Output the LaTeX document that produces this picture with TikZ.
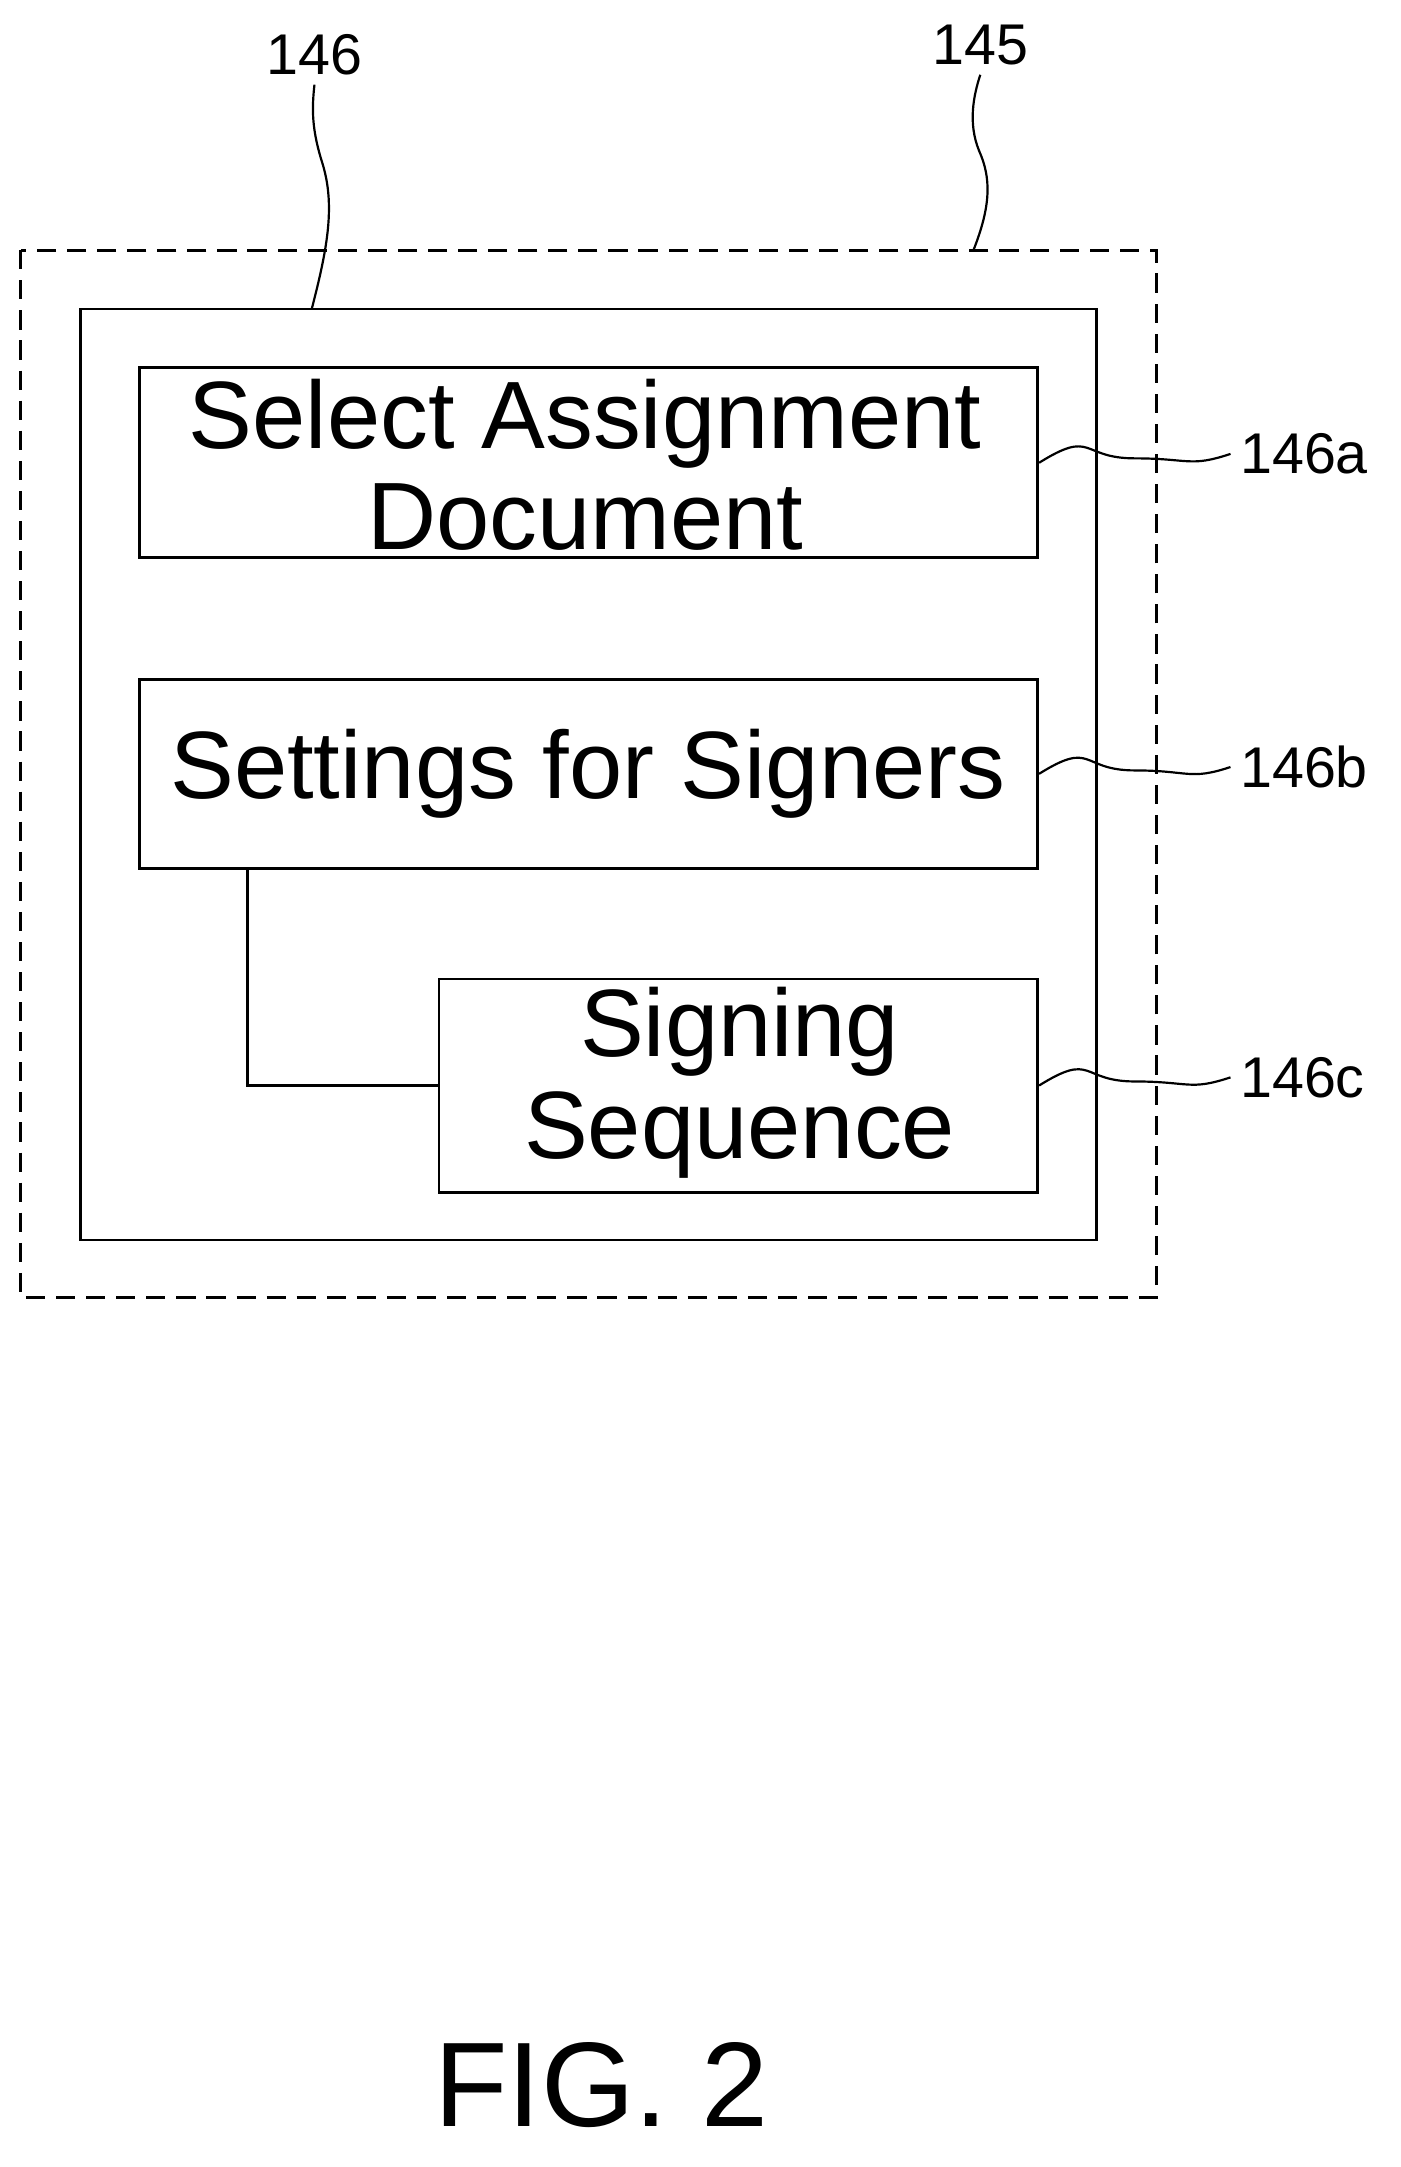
\documentclass[tikz,border=0pt]{standalone}
\usepackage{fontspec}
\setmainfont{Liberation Sans}
\usetikzlibrary{calc}
\begin{document}
\begin{tikzpicture}[x=0.5pt,y=-0.5pt,
  box/.style={draw,line width=1pt},
  big/.style={font=\fontsize{35}{40}\selectfont,align=center},
  lab/.style={font=\fontsize{21}{24}\selectfont},
  lead/.style={line width=0.8pt}]
\useasboundingbox (0,0) rectangle (1024,1585);
\draw[box,dash pattern=on 7pt off 4pt] (15,183) rectangle (846,949);
\draw[box] (59,226) rectangle (802,907);
\node[box,minimum width=328.5pt,minimum height=69.5pt,inner sep=0] (a) at (430.5,338.5) {};
\node[big] at (428,340) {Select Assignment\\[-3pt]Document};
\node[box,minimum width=328.5pt,minimum height=69pt,inner sep=0] (b) at (430.5,566) {};
\node[big] at (430,566) {Settings for Signers};
\node[box,minimum width=219pt,minimum height=78pt,inner sep=0] (c) at (540,794) {};
\node[big] at (541,792) {Signing\\[-3pt]Sequence};
\coordinate (bc) at (181,635);
\draw[line width=1pt] (bc) |- (c.west);
\node[lab,anchor=west] (la) at (900,332) {146a};
\node[lab,anchor=west] (lb) at (900,561) {146b};
\node[lab,anchor=west] (lc) at (900,788) {146c};
\foreach \n/\l in {a/la,b/lb,c/lc}{
  \draw[lead] (\n.east) .. controls +(40,-25) and +(-40,0) .. ($(\n.east)!0.5!(\l.west)$) .. controls +(40,0) and +(-30,10) .. (\l.west);}
\node[lab] (l146) at (230,40) {146};
\node[lab] (l145) at (717,33) {145};
\coordinate (t146) at (228,226);
\coordinate (t145) at (712,183);
\draw[lead] (t146) .. controls (240,180) and (245,150) .. (236,120) .. controls (228,95) and (228,80) .. (l146.south);
\draw[lead] (t145) .. controls (725,150) and (725,130) .. (716,110) .. controls (708,90) and (712,70) .. (l145.south);
\node[font=\fontsize{44}{48}\selectfont] (fig) at (440,1525) {FIG. 2};
\end{tikzpicture}
\end{document}
